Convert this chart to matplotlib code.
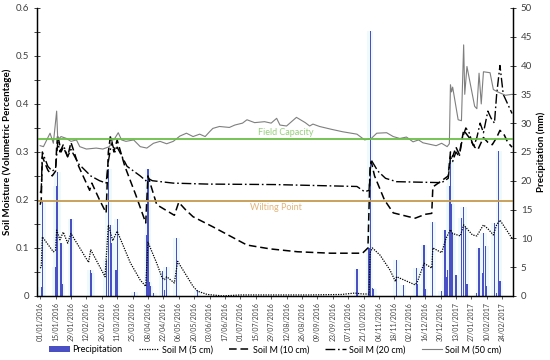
import matplotlib
matplotlib.use("Agg")
import matplotlib.pyplot as plt
import matplotlib.dates as mdates
import pandas as pd

plt.rcParams['font.family'] = ['Lato', 'DejaVu Sans']

# precipitation (mm), daily
rain_dates = ['02/01/2016', '03/01/2016', '15/01/2016', '16/01/2016', '17/01/2016', '20/01/2016',
              '21/01/2016', '29/01/2016', '16/02/2016', '17/02/2016', '01/03/2016', '03/03/2016',
              '05/03/2016', '06/03/2016', '10/03/2016', '11/03/2016', '27/03/2016', '07/04/2016',
              '08/04/2016', '09/04/2016', '10/04/2016', '13/04/2016', '21/04/2016', '23/04/2016',
              '25/04/2016', '04/05/2016', '23/05/2016', '15/10/2016', '26/10/2016', '27/10/2016',
              '29/10/2016', '30/10/2016', '20/11/2016', '26/11/2016', '08/12/2016', '09/12/2016',
              '15/12/2016', '16/12/2016', '23/12/2016', '31/12/2016', '03/01/2017', '04/01/2017',
              '05/01/2017', '07/01/2017', '08/01/2017', '09/01/2017', '10/01/2017', '13/01/2017',
              '18/01/2017', '20/01/2017', '22/01/2017', '23/01/2017', '01/02/2017', '03/02/2017',
              '06/02/2017', '07/02/2017', '09/02/2017', '10/02/2017', '17/02/2017', '19/02/2017',
              '21/02/2017', '22/02/2017']
rain_mm = [1.5, 16.5, 5, 19, 21.5, 9.2,
           2, 13.4, 4.5, 4, 6.2, 22,
           12.3, 9.2, 4.5, 13.4, 0.6, 10.5,
           22, 2.5, 1.8, 0.5, 4.4, 1,
           5, 10, 1, 4.7, 8.3, 46,
           1.4, 1.2, 6.2, 1.9, 4.9, 2,
           8.9, 1.2, 12.8, 0.8, 11.5, 3.3,
           4.5, 19, 23.6, 16, 11, 3.7,
           13.5, 15.5, 12, 2, 0.5, 8.3,
           4, 11, 8.7, 1.7, 12.7, 0.5,
           25.2, 2.6]

# soil moisture 5 cm
sm5_dates = ['01/01/2016', '02/01/2016', '03/01/2016', '13/01/2016', '15/01/2016', '16/01/2016',
             '19/01/2016', '22/01/2016', '26/01/2016', '29/01/2016', '14/02/2016', '16/02/2016',
             '29/02/2016', '03/03/2016', '07/03/2016', '11/03/2016', '23/03/2016', '01/04/2016',
             '06/04/2016', '08/04/2016', '16/04/2016', '21/04/2016', '23/04/2016', '25/04/2016',
             '02/05/2016', '05/05/2016', '19/05/2016', '23/05/2016', '01/06/2016', '15/06/2016',
             '01/07/2016', '01/08/2016', '01/09/2016', '01/10/2016', '13/10/2016', '20/10/2016',
             '26/10/2016', '27/10/2016', '29/10/2016', '05/11/2016', '14/11/2016', '19/11/2016',
             '20/11/2016', '07/12/2016', '09/12/2016', '15/12/2016', '22/12/2016', '23/12/2016',
             '31/12/2016', '04/01/2017', '08/01/2017', '10/01/2017', '17/01/2017', '20/01/2017',
             '23/01/2017', '28/01/2017', '01/02/2017', '07/02/2017', '11/02/2017', '16/02/2017',
             '19/02/2017', '22/02/2017', '05/03/2017']
sm5 = [0.058, 0.06, 0.123, 0.092, 0.095, 0.137,
       0.117, 0.133, 0.11, 0.13, 0.07, 0.096,
       0.04, 0.148, 0.115, 0.135, 0.069, 0.033,
       0.02, 0.112, 0.068, 0.037, 0.034, 0.04,
       0.027, 0.072, 0.02, 0.01, 0.003, 0.0,
       0.002, 0.002, 0.002, 0.003, 0.006, 0.004,
       0.004, 0.09, 0.1, 0.085, 0.054, 0.03,
       0.04, 0.023, 0.03, 0.068, 0.058, 0.1,
       0.09, 0.12, 0.138, 0.13, 0.125, 0.148,
       0.14, 0.127, 0.125, 0.148, 0.14, 0.127,
       0.148, 0.158, 0.12]

# soil moisture 10 cm
sm10_dates = ['01/01/2016', '02/01/2016', '03/01/2016', '08/01/2016', '12/01/2016', '15/01/2016',
              '16/01/2016', '17/01/2016', '20/01/2016', '22/01/2016', '26/01/2016', '29/01/2016',
              '05/02/2016', '15/02/2016', '17/02/2016', '24/02/2016', '01/03/2016', '03/03/2016',
              '05/03/2016', '08/03/2016', '11/03/2016', '18/03/2016', '28/03/2016', '06/04/2016',
              '08/04/2016', '12/04/2016', '16/04/2016', '02/05/2016', '06/05/2016', '12/05/2016',
              '19/05/2016', '06/06/2016', '07/07/2016', '28/07/2016', '22/08/2016', '21/09/2016',
              '20/10/2016', '25/10/2016', '27/10/2016', '28/10/2016', '31/10/2016', '09/11/2016',
              '17/11/2016', '01/12/2016', '07/12/2016', '16/12/2016', '22/12/2016', '23/12/2016',
              '31/12/2016', '06/01/2017', '08/01/2017', '10/01/2017', '13/01/2017', '16/01/2017',
              '20/01/2017', '25/01/2017', '30/01/2017', '02/02/2017', '07/02/2017', '11/02/2017',
              '15/02/2017', '19/02/2017', '22/02/2017', '26/02/2017', '01/03/2017', '05/03/2017']
sm10 = [0.19, 0.2, 0.29, 0.262, 0.25, 0.26,
        0.31, 0.335, 0.30, 0.31, 0.29, 0.32,
        0.27, 0.22, 0.235, 0.2, 0.173, 0.30,
        0.335, 0.30, 0.325, 0.27, 0.21, 0.152,
        0.25, 0.22, 0.19, 0.168, 0.195, 0.18,
        0.165, 0.144, 0.106, 0.098, 0.092, 0.089,
        0.089, 0.1, 0.27, 0.28, 0.25, 0.2,
        0.173, 0.165, 0.162, 0.17, 0.172, 0.227,
        0.24, 0.25, 0.30, 0.29, 0.31, 0.295,
        0.345, 0.33, 0.31, 0.305, 0.33, 0.32,
        0.315, 0.33, 0.345, 0.335, 0.32, 0.31]

# soil moisture 20 cm
sm20_dates = ['01/01/2016', '02/01/2016', '03/01/2016', '08/01/2016', '12/01/2016', '15/01/2016',
              '17/01/2016', '19/01/2016', '22/01/2016', '26/01/2016', '29/01/2016', '05/02/2016',
              '16/02/2016', '24/02/2016', '01/03/2016', '03/03/2016', '06/03/2016', '09/03/2016',
              '11/03/2016', '20/03/2016', '01/04/2016', '06/04/2016', '08/04/2016', '12/04/2016',
              '01/05/2016', '01/06/2016', '01/08/2016', '15/10/2016', '22/10/2016', '26/10/2016',
              '27/10/2016', '28/10/2016', '03/11/2016', '10/11/2016', '20/11/2016', '10/12/2016',
              '31/12/2016', '06/01/2017', '08/01/2017', '10/01/2017', '13/01/2017', '16/01/2017',
              '19/01/2017', '22/01/2017', '25/01/2017', '29/01/2017', '01/02/2017', '04/02/2017',
              '07/02/2017', '11/02/2017', '14/02/2017', '17/02/2017', '19/02/2017', '22/02/2017',
              '25/02/2017', '01/03/2017', '05/03/2017']
sm20 = [0.215, 0.22, 0.30, 0.27, 0.26, 0.265,
        0.32, 0.30, 0.315, 0.29, 0.305, 0.275,
        0.25, 0.24, 0.235, 0.28, 0.32, 0.30,
        0.31, 0.27, 0.25, 0.24, 0.245, 0.24,
        0.235, 0.233, 0.232, 0.228, 0.217, 0.22,
        0.26, 0.283, 0.26, 0.245, 0.238, 0.237,
        0.236, 0.245, 0.29, 0.28, 0.30, 0.29,
        0.33, 0.35, 0.34, 0.31, 0.33, 0.36,
        0.34, 0.385, 0.37, 0.36, 0.42, 0.48,
        0.42, 0.40, 0.38]

# soil moisture 50 cm
sm50_dates = ['01/01/2016', '04/01/2016', '10/01/2016', '13/01/2016', '16/01/2016', '17/01/2016',
              '20/01/2016', '25/01/2016', '29/01/2016', '03/02/2016', '06/02/2016', '12/02/2016',
              '21/02/2016', '27/02/2016', '04/03/2016', '07/03/2016', '08/03/2016', '12/03/2016',
              '15/03/2016', '19/03/2016', '26/03/2016', '01/04/2016', '07/04/2016', '13/04/2016',
              '19/04/2016', '25/04/2016', '01/05/2016', '07/05/2016', '13/05/2016', '19/05/2016',
              '25/05/2016', '30/05/2016', '03/06/2016', '06/06/2016', '12/06/2016', '21/06/2016',
              '26/06/2016', '03/07/2016', '07/07/2016', '14/07/2016', '23/07/2016', '29/07/2016',
              '03/08/2016', '06/08/2016', '12/08/2016', '21/08/2016', '29/08/2016', '02/09/2016',
              '05/09/2016', '11/09/2016', '22/09/2016', '02/10/2016', '15/10/2016', '22/10/2016',
              '28/10/2016', '02/11/2016', '11/11/2016', '17/11/2016', '23/11/2016', '29/11/2016',
              '05/12/2016', '10/12/2016', '14/12/2016', '20/12/2016', '26/12/2016', '31/12/2016',
              '05/01/2017', '07/01/2017', '08/01/2017', '09/01/2017', '10/01/2017', '15/01/2017',
              '18/01/2017', '20/01/2017', '21/01/2017', '23/01/2017', '30/01/2017', '01/02/2017',
              '03/02/2017', '05/02/2017', '07/02/2017', '13/02/2017', '16/02/2017', '20/02/2017',
              '27/02/2017', '05/03/2017']
sm50 = [0.313, 0.311, 0.339, 0.318, 0.385, 0.325,
        0.332, 0.328, 0.322, 0.325, 0.311, 0.306,
        0.308, 0.306, 0.311, 0.328, 0.325, 0.34,
        0.325, 0.322, 0.325, 0.311, 0.308, 0.318,
        0.322, 0.317, 0.322, 0.333, 0.339, 0.332,
        0.337, 0.332, 0.342, 0.349, 0.353, 0.351,
        0.356, 0.36, 0.367, 0.361, 0.363, 0.36,
        0.37, 0.356, 0.354, 0.372, 0.361, 0.354,
        0.358, 0.353, 0.347, 0.342, 0.337, 0.325,
        0.328, 0.339, 0.34, 0.332, 0.328, 0.331,
        0.321, 0.325, 0.319, 0.316, 0.313, 0.318,
        0.311, 0.317, 0.44, 0.425, 0.435, 0.367,
        0.365, 0.523, 0.42, 0.478, 0.395, 0.39,
        0.464, 0.40, 0.467, 0.465, 0.43, 0.425,
        0.418, 0.42]

field_capacity = 0.327
wilting_point = 0.198


def to_dt(dates):
    return pd.to_datetime(dates, format='%d/%m/%Y')


fig, ax = plt.subplots(figsize=(5.5, 3.6), dpi=100)
fig.subplots_adjust(left=0.067, right=0.933, top=0.978, bottom=0.178)
ax2 = ax.twinx()
ax.set_zorder(ax2.get_zorder() + 1)
ax.patch.set_visible(False)

rd = to_dt(rain_dates)
ax2.bar(rd, rain_mm, width=6, color='#e4f7fb', alpha=0.6, linewidth=0)
bars = ax2.bar(rd, rain_mm, width=1.1, color='#4b4fc4', linewidth=0, label='Precipitation')

l5, = ax.plot(to_dt(sm5_dates), sm5, color='black', lw=0.9, ls=(0, (1, 1)), label='Soil M (5 cm)')
l10, = ax.plot(to_dt(sm10_dates), sm10, color='black', lw=1.1, ls=(0, (5, 2.5)), label='Soil M (10 cm)')
l20, = ax.plot(to_dt(sm20_dates), sm20, color='black', lw=1.0, ls=(0, (7, 2, 1.2, 2)), label='Soil M (20 cm)')
l50, = ax.plot(to_dt(sm50_dates), sm50, color='#7f7f7f', lw=0.8, label='Soil M (50 cm)')

ax.axhline(field_capacity, color='#6cbf45', lw=1.3)
ax.axhline(wilting_point, color='#c59a4f', lw=1.3)
ax.text(pd.Timestamp('2016-08-11'), field_capacity + 0.004, 'Field Capacity',
        color='#96cf7c', fontsize=6.5, ha='center', va='bottom')
ax.text(pd.Timestamp('2016-08-02'), wilting_point - 0.004, 'Wilting Point',
        color='#e3b47a', fontsize=6.5, ha='center', va='top')

ax.set_ylim(0, 0.6)
ax2.set_ylim(0, 50)
ax.set_xlim(pd.Timestamp('2015-12-29'), pd.Timestamp('2017-03-06'))

ax.set_yticks([0, 0.1, 0.2, 0.3, 0.4, 0.5, 0.6])
ax.set_yticklabels(['0', '0.1', '0.2', '0.3', '0.4', '0.5', '0.6'])
ax.set_yticks([0.05, 0.15, 0.25, 0.35, 0.45, 0.55], minor=True)
ax2.set_yticks(range(0, 51, 5))

ticks = pd.date_range('2016-01-01', '2017-02-24', freq='14D')
ax.set_xticks(ticks)
ax.xaxis.set_major_formatter(mdates.DateFormatter('%d/%m/%Y'))
ax.tick_params(axis='x', labelsize=5, rotation=90, length=2.5, width=0.6, pad=2, colors='#404040')
ax.tick_params(axis='y', which='both', direction='inout', length=4, width=0.7, labelsize=7, colors='#404040')
ax2.tick_params(axis='y', direction='inout', length=4, width=0.7, labelsize=7, colors='#404040')

for a in (ax, ax2):
    a.spines['top'].set_visible(False)
    for s in ('left', 'right', 'bottom'):
        a.spines[s].set_color('black')
        a.spines[s].set_linewidth(0.9)

ax.set_ylabel('Soil Moisture (Volumetric Percentage)', fontsize=7, fontweight='bold', labelpad=3)
ax2.set_ylabel('Precipitation (mm)', fontsize=7, fontweight='bold', labelpad=3)

fig.legend([bars, l5, l10, l20, l50],
           ['Precipitation', 'Soil M (5 cm)', 'Soil M (10 cm)', 'Soil M (20 cm)', 'Soil M (50 cm)'],
           loc='center', bbox_to_anchor=(0.5, 0.028), ncol=5, frameon=False,
           fontsize=6.5, handlelength=2.3, columnspacing=1.8, handletextpad=0.3)

fig.savefig('out.png', dpi=100)
